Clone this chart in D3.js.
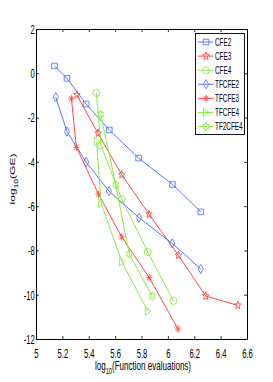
<!DOCTYPE html>
<html>
<head>
<meta charset="utf-8">
<script src="https://cdn.jsdelivr.net/npm/d3@7"></script>
<style>
  body { margin: 0; background: #fff; }
  svg text { font-family: "Liberation Sans", Arial, sans-serif; fill: #000; }
</style>
</head>
<body>
<div id="chart"></div>
<script>
// series data: [log10(function evaluations), log10(GE)]
var cfe2    = [[5.14,0.33],[5.235,-0.23],[5.38,-1.39],[5.556,-2.56],[5.778,-3.83],[6.035,-5.02],[6.25,-6.26]];
var cfe3    = [[5.31,-0.98],[5.47,-2.71],[5.65,-4.58],[5.858,-6.37],[6.08,-8.22],[6.287,-10.06],[6.53,-10.48]];
var cfe4    = [[5.457,-0.89],[5.493,-3.26],[5.65,-5.69],[5.847,-8.07],[6.042,-10.28]];
var tfcfe2  = [[5.15,-1.08],[5.235,-2.63],[5.38,-4.01],[5.553,-5.32],[5.781,-6.52],[6.033,-7.68],[6.249,-8.84]];
var tfcfe3  = [[5.269,-1.15],[5.306,-3.34],[5.474,-5.46],[5.65,-7.39],[5.859,-9.23],[6.077,-11.55]];
var tfcfe4  = [[5.46,-3.08],[5.493,-5.86],[5.652,-8.52],[5.847,-10.74]];
var tf2cfe4 = [[5.491,-1.85],[5.605,-5.04],[5.707,-8.16],[5.882,-10.07]];

var names   = ["CFE2","CFE3","CFE4","TFCFE2","TFCFE3","TFCFE4","TF2CFE4"];
var markers = ["square","pentagram","circle","diamond","asterisk","triangle","hexagram"];
var xTicks  = [5,5.2,5.4,5.6,5.8,6,6.2,6.4,6.6];
var yTicks  = [2,0,-2,-4,-6,-8,-10,-12];

var blue = "#5a78ff", red = "#ff4a4a", green = "#8ee84e";
var colors = [blue, red, green, blue, red, green, green];
var series = [cfe2, cfe3, cfe4, tfcfe2, tfcfe3, tfcfe4, tf2cfe4];

var width = 273, height = 382;
var margins = {top: 29, right: 26, bottom: 43, left: 36};
var sx = 0.64; // text is squeezed horizontally in the reference

var svg = d3.select("#chart").append("svg")
    .attr("width", width).attr("height", height);

var x = d3.scaleLinear().domain([5, 6.6]).range([margins.left, width - margins.right]);
var y = d3.scaleLinear().domain([-12, 2]).range([height - margins.bottom, margins.top]);

// marker shapes as path strings centred on 0,0
function markerPath(type) {
    var p = d3.path(), i, a;
    if (type == "square") {
        p.rect(-2.8, -2.8, 5.6, 5.6);
    } else if (type == "circle") {
        p.ellipse ? p.ellipse(0, 0, 3, 4, 0, 0, 2 * Math.PI) : p.arc(0, 0, 3.5, 0, 2 * Math.PI);
    } else if (type == "diamond") {
        p.moveTo(0, -4.6); p.lineTo(2.6, 0); p.lineTo(0, 4.6); p.lineTo(-2.6, 0); p.closePath();
    } else if (type == "triangle") {
        p.moveTo(-2.4, -4.2); p.lineTo(3, 0); p.lineTo(-2.4, 4.2); p.closePath();
    } else if (type == "pentagram" || type == "hexagram") {
        var n = type == "pentagram" ? 5 : 6, ro = 4.3, ri = type == "pentagram" ? 1.8 : 2.4;
        for (i = 0; i < 2 * n; i++) {
            a = -Math.PI / 2 + i * Math.PI / n;
            var r = i % 2 ? ri : ro;
            var px = r * Math.cos(a) * 0.8, py = r * Math.sin(a);
            if (i == 0) p.moveTo(px, py); else p.lineTo(px, py);
        }
        p.closePath();
    } else if (type == "asterisk") {
        p.moveTo(0, -3.6); p.lineTo(0, 3.6);
        p.moveTo(-3, 0); p.lineTo(3, 0);
        p.moveTo(-2.2, -2.6); p.lineTo(2.2, 2.6);
        p.moveTo(-2.2, 2.6); p.lineTo(2.2, -2.6);
    }
    return p.toString();
}

// axes, ticks inside like matlab
var bottom = svg.append("g")
    .attr("transform", "translate(0," + y(-12) + ")")
    .call(d3.axisBottom(x).tickValues(xTicks).tickFormat(d3.format("")).tickSizeInner(-3).tickSizeOuter(0).tickPadding(10));
var top = svg.append("g")
    .attr("transform", "translate(0," + y(2) + ")")
    .call(d3.axisTop(x).tickValues(xTicks).tickFormat("").tickSizeInner(-3).tickSizeOuter(0));
var left = svg.append("g")
    .attr("transform", "translate(" + x(5) + ",0)")
    .call(d3.axisLeft(y).tickValues(yTicks).tickFormat(d3.format("")).tickSizeInner(-3).tickSizeOuter(0).tickPadding(2));
var right = svg.append("g")
    .attr("transform", "translate(" + x(6.6) + ",0)")
    .call(d3.axisRight(y).tickValues(yTicks).tickFormat("").tickSizeInner(-3).tickSizeOuter(0));

svg.selectAll(".domain").attr("stroke", "#000").attr("stroke-width", 1);
svg.selectAll(".tick line").attr("stroke", "#000").attr("stroke-width", 0.8);
svg.selectAll(".tick text").attr("font-size", "12px")
    .attr("font-family", "Liberation Sans, Arial, sans-serif")
    .text(function(d) { return d3.select(this).text().replace("\u2212", "-"); });
bottom.selectAll(".tick text").attr("transform", "scale(" + sx + ",1)");
left.selectAll(".tick text").attr("transform", "scale(" + sx + ",1)").attr("dy", "0.36em");

// lines and markers
var line = d3.line().x(function(d) { return x(d[0]); }).y(function(d) { return y(d[1]); });

var lap = svg.selectAll(".series")
    .data(series)
    .enter().append("g")
    .attr("class", "series");

lap.append("path")
    .attr("d", function(d) { return line(d); })
    .attr("fill", "none")
    .style("stroke", function(d, i) { return colors[i]; })
    .style("stroke-width", "1px");

lap.each(function(d, i) {
    d3.select(this).selectAll(".mk")
        .data(d)
        .enter().append("path")
        .attr("class", "mk")
        .attr("transform", function(p) { return "translate(" + x(p[0]) + "," + y(p[1]) + ")"; })
        .attr("d", markerPath(markers[i]))
        .attr("fill", "none")
        .attr("stroke", colors[i])
        .attr("stroke-width", 0.9);
});

// legend
var lg = svg.append("g").attr("class", "legend");
lg.append("rect")
    .attr("x", 195.5).attr("y", 33.5).attr("width", 49).attr("height", 101)
    .attr("fill", "#fff").attr("stroke", "#000").attr("stroke-width", 0.9);

var item = lg.selectAll(".item")
    .data(names)
    .enter().append("g")
    .attr("class", "item")
    .attr("transform", function(d, i) { return "translate(0," + (42 + i * 14.1) + ")"; });

item.append("line")
    .attr("x1", 198).attr("x2", 213.5).attr("y1", 0).attr("y2", 0)
    .attr("stroke", function(d, i) { return colors[i]; }).attr("stroke-width", 1);
item.append("path")
    .attr("transform", "translate(206,0)")
    .attr("d", function(d, i) { return markerPath(markers[i]); })
    .attr("fill", "none")
    .attr("stroke", function(d, i) { return colors[i]; }).attr("stroke-width", 0.9);
item.append("text")
    .attr("transform", "translate(215,3.5) scale(" + sx + ",1)")
    .attr("font-size", "10px")
    .text(function(d) { return d; });

// axis labels with subscript 10
var xl = svg.append("text")
    .attr("transform", "translate(143,370) scale(0.67,1)")
    .attr("text-anchor", "middle")
    .attr("font-size", "12px");
xl.append("tspan").text("log");
xl.append("tspan").attr("font-size", "8.5px").attr("dy", 4).text("10");
xl.append("tspan").attr("dy", -4).text("(Function evaluations)");

var yl = svg.append("text")
    .attr("transform", "translate(15,179) rotate(-90) scale(1,0.64)")
    .attr("text-anchor", "middle")
    .attr("font-size", "12px");
yl.append("tspan").text("log");
yl.append("tspan").attr("font-size", "8.5px").attr("dy", 4).text("10");
yl.append("tspan").attr("dy", -4).text("(GE)");
</script>
</body>
</html>
